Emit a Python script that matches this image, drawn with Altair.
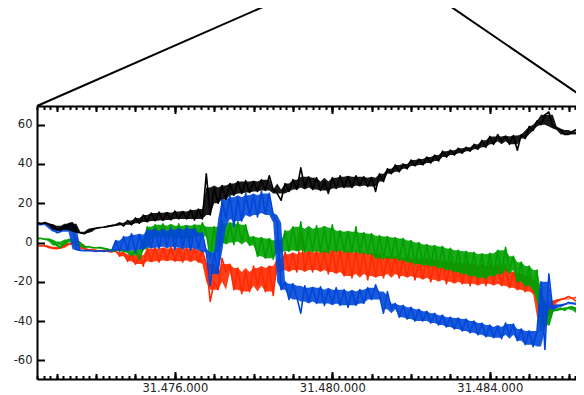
import altair as alt
import pandas as pd

# ---------------- data ----------------
X_START = 31472500
X_STEP = 100

BLACK = [10, 9.6, 10.2, 9.4, 8.5, 6.5, 6.2, 8.0, 9.5, 10.0,
         5.5, 4.8, 4.5, 5.5, 7.0, 7.2, 7.6, 7.8, 8.2, 8.6,
         9.0, 10.0, 8.4, 11.2, 9.0, 12.5, 9.8, 14.0, 10.5, 15.0,
         11.0, 15.5, 11.2, 15.2, 11.5, 16.0, 12.0, 15.8, 12.0, 16.5,
         11.5, 17.0, 12.0, 35.0, 14.0, 28.0, 20.0, 29.0, 22.0, 30.0,
         24.0, 31.0, 25.0, 31.5, 25.5, 31.0, 26.0, 32.0, 26.5, 34.0,
         27.0, 25.0, 21.5, 30.0, 26.0, 32.0, 27.0, 38.0, 28.0, 33.5,
         27.0, 33.0, 26.5, 31.0, 25.0, 33.0, 27.5, 34.0, 28.0, 33.5,
         28.0, 34.0, 29.0, 33.5, 28.5, 33.0, 26.0, 35.0, 31.0, 37.5,
         35.0, 39.5, 36.0, 40.0, 37.5, 42.0, 39.0, 42.5, 39.5, 43.5,
         40.5, 44.5, 41.5, 46.5, 43.5, 47.0, 44.5, 48.0, 45.5, 48.5,
         46.5, 50.0, 47.5, 52.0, 48.5, 54.0, 50.0, 55.0, 51.5, 54.0,
         50.0, 54.5, 47.0, 55.0, 53.0, 59.0, 57.0, 62.0, 60.0, 65.0,
         66.5, 59.0, 58.0, 57.3, 55.0, 55.0, 56.5, 57.5, 56.0, 53.5,
         52.0, 51.0, 50.0]

RED = [-1.5, -1.8, -1.5, -2.2, -3.0, -3.2, -2.8, -1.5, -0.8, -0.3,
       2.5, -1.0, -3.5, -3.8, -3.5, -4.0, -4.2, -4.0, -4.5, -4.8,
       -4.0, -7.0, -5.0, -9.5, -6.0, -11.0, -6.5, -12.0, -3.0, -9.5,
       -2.5, -10.0, -3.0, -9.0, -2.0, -9.5, -3.0, -10.0, -2.5, -9.0,
       -3.0, -10.0, -4.0, -11.0, -30.0, -20.0, -24.0, -8.0, -15.0, -11.0,
       -24.0, -13.0, -26.0, -15.0, -25.0, -12.0, -22.0, -13.0, -25.0, -12.0,
       -27.0, -8.0, -15.0, -5.0, -14.0, -6.0, -15.0, 5.0, -14.0, -5.0,
       -15.0, -4.0, -14.0, -5.0, -16.0, -4.0, -15.0, -4.0, -17.0, -5.0,
       -18.0, -4.0, -16.0, -5.0, -19.0, -6.0, -17.0, -5.0, -18.0, -7.0,
       -16.0, -7.0, -18.0, -8.0, -17.0, -8.0, -19.0, -9.0, -18.0, -8.0,
       -20.0, -9.0, -19.0, -10.0, -21.0, -9.0, -20.0, -11.0, -21.0, -10.0,
       -22.0, -11.0, -21.0, -12.0, -22.0, -11.0, -21.0, -12.0, -22.0, -11.0,
       -23.0, -15.0, -24.0, -16.0, -25.0, -17.0, -26.0, -19.0, -38.0, -43.0,
       -36.0, -30.5, -29.5, -29.0, -28.5, -27.5, -28.5, -30.0, -28.0, -23.0,
       -21.0, -20.0, -20.0]

GREEN = [2.0, 2.2, 1.5, 1.8, 0.5, -1.5, -2.5, 0.0, 1.5, 1.8,
         0.5, -1.5, -2.5, -2.0, -2.5, -2.8, -2.5, -3.0, -3.5, -4.5,
         -4.0, -3.5, -4.0, -5.0, -6.5, -4.0, -8.5, -3.0, 8.0, 2.0,
         9.0, 3.0, 9.5, 2.5, 8.5, 1.5, 9.5, 2.0, 8.5, 1.5,
         9.0, 3.0, 10.0, 5.0, -8.0, 8.0, -5.0, 11.0, 0.0, 9.5,
         -1.0, 10.5, 0.5, 9.0, -1.5, 3.0, -7.0, 2.5, -8.0, 2.0,
         -8.5, 1.0, -5.0, 6.0, -4.5, 8.0, -4.0, 10.5, -5.0, 7.0,
         -4.5, 8.5, -5.0, 7.5, -5.5, 9.0, -4.0, 6.0, -5.0, 5.5,
         -5.0, 8.0, -5.5, 5.0, -6.0, 4.5, -8.0, 3.5, -8.5, 3.0,
         -8.0, 2.5, -9.0, 2.0, -10.0, 1.0, -11.0, 0.0, -11.5, -1.0,
         -12.0, -1.5, -13.0, -2.0, -14.0, -3.0, -15.0, -4.0, -16.0, -4.5,
         -17.0, -5.0, -18.0, -6.0, -18.5, -5.5, -17.0, -4.0, -16.0, -2.5,
         -14.0, -7.0, -20.0, -10.0, -22.0, -12.0, -24.0, -14.0, -45.0, -30.0,
         -42.0, -35.0, -34.0, -33.5, -34.5, -33.0, -32.8, -34.0, -36.0, -37.5,
         -38.5, -39.0, -39.0]

BLUE = [9.2, 9.0, 9.5, 8.8, 7.0, 5.0, 5.5, 7.5, 8.8, 9.0,
        -3.5, -4.0, -4.2, -4.0, -4.3, -4.5, -4.2, -4.5, -4.3, -4.0,
        1.0, -4.5, 3.0, -4.0, 4.5, -5.0, 4.0, -3.5, 6.5, -2.5,
        7.0, -3.0, 6.0, -2.0, 7.5, -3.5, 6.5, -2.5, 8.0, -4.0,
        7.0, -3.0, 5.0, -5.0, -22.0, -5.0, -16.0, 22.0, 12.0, 24.0,
        8.0, 23.0, 11.0, 25.0, 14.0, 24.0, 13.0, 26.0, 15.0, 25.0,
        14.0, 10.0, -24.0, -20.0, -29.0, -21.0, -28.0, -36.0, -22.0, -30.0,
        -23.0, -31.0, -22.5, -32.0, -24.0, -31.0, -23.0, -32.0, -24.0, -33.0,
        -25.0, -32.0, -24.0, -31.0, -23.0, -29.0, -21.5, -27.0, -36.0, -25.0,
        -34.0, -31.0, -38.0, -32.0, -39.0, -33.0, -40.0, -34.0, -40.0, -35.0,
        -41.0, -36.0, -42.0, -37.0, -43.0, -38.0, -44.0, -38.5, -45.0, -39.0,
        -46.0, -40.0, -47.0, -41.0, -48.0, -42.0, -48.5, -43.0, -49.0, -41.0,
        -47.0, -41.5, -50.0, -44.0, -52.0, -45.0, -53.0, -45.0, -20.0, -54.5,
        -16.0, -34.0, -33.0, -32.0, -31.5, -30.5, -31.0, -31.5, -30.5, -29.5,
        -29.0, -28.5, -28.5]

SERIES = [("red", RED, "#ff2a00"), ("green", GREEN, "#00a000"),
          ("blue", BLUE, "#0047d8"), ("black", BLACK, "#000000")]

X_DOMAIN = [31472500, 31486190]          # part of the x range that fits the window
Y_DOMAIN = [-69.5, 69.5]
X_LABEL_VALUES = [31476000, 31480000, 31484000]
X_LABELS = ["31.476.000", "31.480.000", "31.484.000"]
Y_TICKS = [-60, -40, -20, 0, 20, 40, 60]
# zoom-indicator lines (from the plot corners up to the parent view)
ZOOM_X = [31472500, 31478647, 31482762, 31486700]
ZOOM_Y = [69.5, 123.5, 123.5, 69.5]

# ---------------- layout ----------------
W, H = 539, 273
FONT = "DejaVu Sans"

major_ticks = X_LABEL_VALUES
medium_ticks = [31473000 + 1000 * k for k in range(14)]
minor_ticks = [round(31473000 + k * 1000 / 6, 2) for k in range(-3, 80)]

xscale = alt.Scale(domain=X_DOMAIN, nice=False, zero=False)
yscale = alt.Scale(domain=Y_DOMAIN, nice=False, zero=False)

label_expr = " : ".join(
    f"datum.value == {v} ? '{t}'" for v, t in zip(X_LABEL_VALUES, X_LABELS)
) + " : ''"

x_label_axis = alt.Axis(orient="bottom", values=X_LABEL_VALUES, labelExpr=label_expr,
                        ticks=False, tickSize=0, domain=True, domainColor="black",
                        domainWidth=2, grid=False, title=None, labelFont=FONT,
                        labelFontSize=11.5, labelColor="#222", labelPadding=3,
                        labelFlush=False, labelOverlap=False, zindex=1)
y_label_axis = alt.Axis(orient="left", values=Y_TICKS, labelExpr="'' + datum.value",
                        ticks=False, tickSize=0, domain=True, domainColor="black",
                        domainWidth=2, grid=False, title=None, labelFont=FONT,
                        labelFontSize=11.5, labelColor="#222", labelPadding=5, zindex=1)
y_tick_axis = alt.Axis(orient="right", offset=-W, values=Y_TICKS, tickSize=7.5,
                       tickWidth=2, tickColor="black", labels=False, domain=False,
                       grid=False, title=None, zindex=1)


def x_tick_axis(orient, values, size, domain=False):
    return alt.Axis(orient=orient, offset=-H, values=values, tickSize=size, tickWidth=2,
                    tickColor="black", labels=False, domain=domain, domainColor="black",
                    domainWidth=2, grid=False, title=None, zindex=1)


x_axes = [
    x_label_axis,
    x_tick_axis("top", major_ticks, 7.5),
    x_tick_axis("top", medium_ticks, 5.5),
    x_tick_axis("top", minor_ticks, 3.5),
    x_tick_axis("bottom", major_ticks, 7.5, domain=True),
    x_tick_axis("bottom", medium_ticks, 5.5),
    x_tick_axis("bottom", minor_ticks, 3.5),
]
y_axes = [y_label_axis, y_tick_axis]


def series_table(vals):
    """Zig-zag samples plus the dense core of the noise band (2nd lowest /
    2nd highest of the 5 neighbouring samples)."""
    n = len(vals)
    lo, hi = [], []
    for i in range(n):
        win = sorted(vals[max(0, i - 2):min(n, i + 3)])
        if len(win) >= 4:
            lo.append(win[1]); hi.append(win[-2])
        else:
            lo.append(win[0]); hi.append(win[-1])
    return pd.DataFrame({"x": [X_START + X_STEP * i for i in range(n)],
                         "v": vals, "lo": lo, "hi": hi})


layer_specs = []
for name, vals, color in SERIES:
    df = series_table(vals)
    layer_specs.append(("area", df, color))
    layer_specs.append(("line", df, color))

layers = []
for k, (kind, df, color) in enumerate(layer_specs):
    xa = x_axes[k] if k < len(x_axes) else None
    ya = y_axes[k] if k < len(y_axes) else None
    if kind == "area":
        layers.append(
            alt.Chart(df).mark_area(color=color, opacity=0.9).encode(
                x=alt.X("x:Q", scale=xscale, axis=xa),
                y=alt.Y("lo:Q", scale=yscale, axis=ya),
                y2="hi:Q",
            )
        )
    else:
        layers.append(
            alt.Chart(df).mark_line(color=color, strokeWidth=1.6, strokeJoin="round").encode(
                x=alt.X("x:Q", scale=xscale, axis=xa),
                y=alt.Y("v:Q", scale=yscale, axis=ya),
            )
        )

zoom_df = pd.DataFrame({"x": [ZOOM_X[0], ZOOM_X[3]], "y": [ZOOM_Y[0], ZOOM_Y[3]],
                        "x2": [ZOOM_X[1], ZOOM_X[2]], "y2": [ZOOM_Y[1], ZOOM_Y[2]]})
layers.append(
    alt.Chart(zoom_df).mark_rule(color="black", strokeWidth=2).encode(
        x=alt.X("x:Q", scale=xscale, axis=None),
        y=alt.Y("y:Q", scale=yscale, axis=None),
        x2="x2:Q", y2="y2:Q",
    )
)

chart = alt.layer(*layers).resolve_axis(x="independent", y="independent").properties(
    width=W, height=H,
    autosize=alt.AutoSizeParams(type="none"),
    padding={"left": 29, "top": 98, "right": 0, "bottom": 16},
).configure_view(strokeWidth=0).configure(background="white")

chart.save("out.html", embed_options={"renderer": "svg", "actions": False})
